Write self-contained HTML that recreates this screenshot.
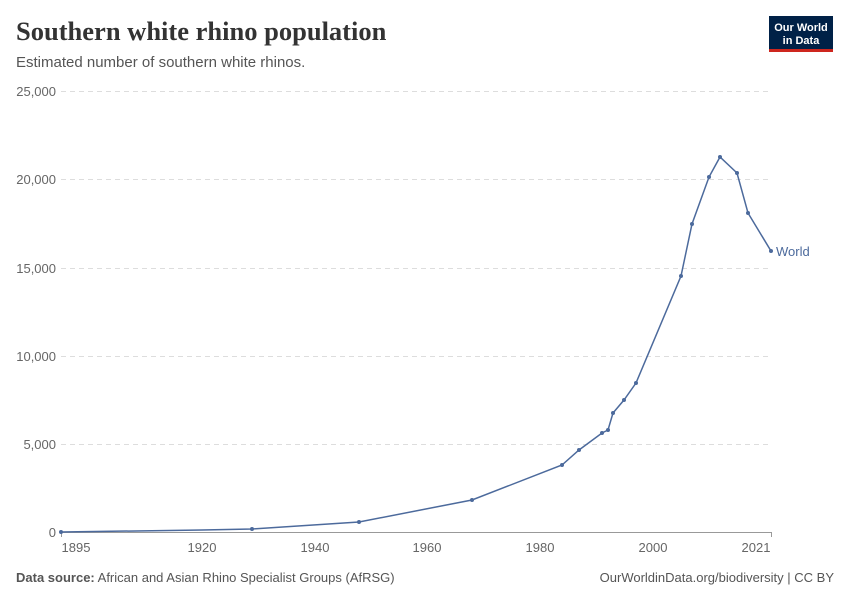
<!DOCTYPE html>
<html><head><meta charset="utf-8"><style>
body{margin:0;background:#fff;font-family:"Liberation Sans",sans-serif;}
</style></head><body>
<svg width="850" height="600" xmlns="http://www.w3.org/2000/svg">
<rect width="850" height="600" fill="#fff"/>
<text x="16" y="40" font-family="Liberation Serif,serif" font-size="26.5" font-weight="bold" fill="#333">Southern white rhino population</text>
<text x="16" y="67" font-size="15" fill="#555">Estimated number of southern white rhinos.</text>
<rect x="769" y="16" width="64" height="36" fill="#002147"/>
<rect x="769" y="49" width="64" height="3" fill="#ce261e"/>
<text x="801" y="31" font-size="11" font-weight="bold" fill="#fff" text-anchor="middle">Our World</text>
<text x="801" y="44" font-size="11" font-weight="bold" fill="#fff" text-anchor="middle">in Data</text>
<g stroke="#ddd" stroke-dasharray="5,4" stroke-width="1">
<line x1="61" x2="772" y1="91.5" y2="91.5"/>
<line x1="61" x2="772" y1="179.5" y2="179.5"/>
<line x1="61" x2="772" y1="268.5" y2="268.5"/>
<line x1="61" x2="772" y1="356.5" y2="356.5"/>
<line x1="61" x2="772" y1="444.5" y2="444.5"/>
</g>
<line x1="61" x2="772" y1="532.5" y2="532.5" stroke="#999"/>
<g font-size="13" fill="#666" text-anchor="end">
<text x="56" y="96">25,000</text>
<text x="56" y="184">20,000</text>
<text x="56" y="273">15,000</text>
<text x="56" y="361">10,000</text>
<text x="56" y="449">5,000</text>
<text x="56" y="537">0</text>
</g>
<g stroke="#999"><line x1="61.5" x2="61.5" y1="532" y2="537"/><line x1="771.5" x2="771.5" y1="532" y2="537"/></g>
<g font-size="13" fill="#666" text-anchor="middle">
<text x="76" y="552">1895</text>
<text x="202" y="552">1920</text>
<text x="315" y="552">1940</text>
<text x="427" y="552">1960</text>
<text x="540" y="552">1980</text>
<text x="653" y="552">2000</text>
<text x="756" y="552">2021</text>
</g>
<polyline fill="none" stroke="#4c6a9c" stroke-width="1.5" points="61,532 202,530 252,529 359,522 472,500 562,465 579,450 602,433 608,430 613,413 624,400 636,383 681,276 692,224 709,177 720,157 737,173 748,213 771,251"/>
<g fill="#4c6a9c">
<circle cx="61" cy="532" r="2"/><circle cx="252" cy="529" r="2"/><circle cx="359" cy="522" r="2"/><circle cx="472" cy="500" r="2"/><circle cx="562" cy="465" r="2"/><circle cx="579" cy="450" r="2"/><circle cx="602" cy="433" r="2"/><circle cx="608" cy="430" r="2"/><circle cx="613" cy="413" r="2"/><circle cx="624" cy="400" r="2"/><circle cx="636" cy="383" r="2"/><circle cx="681" cy="276" r="2"/><circle cx="692" cy="224" r="2"/><circle cx="709" cy="177" r="2"/><circle cx="720" cy="157" r="2"/><circle cx="737" cy="173" r="2"/><circle cx="748" cy="213" r="2"/><circle cx="771" cy="251" r="2"/>
</g>
<text x="776" y="256" font-size="13" fill="#4c6a9c">World</text>
<text x="16" y="582" font-size="13" fill="#555"><tspan font-weight="bold">Data source:</tspan> African and Asian Rhino Specialist Groups (AfRSG)</text>
<text x="834" y="582" font-size="13" fill="#555" text-anchor="end">OurWorldinData.org/biodiversity | CC BY</text>
</svg>
</body></html>
